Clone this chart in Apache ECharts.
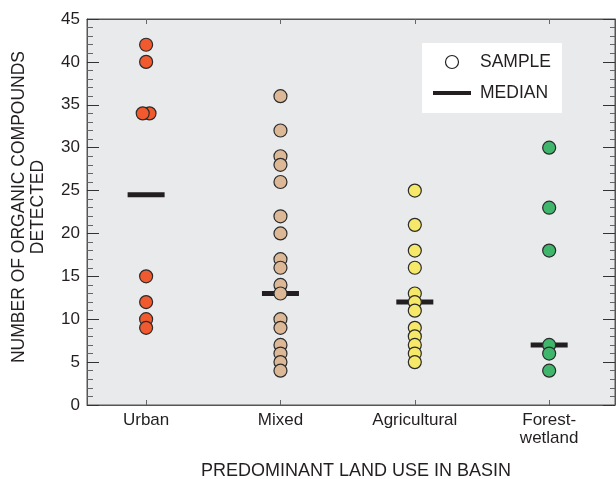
<!DOCTYPE html>
<html><head><meta charset="utf-8">
<script src="https://cdn.jsdelivr.net/npm/echarts@6/dist/echarts.min.js"></script>
<style>html,body{margin:0;padding:0;background:#fff}#c{width:616px;height:479px}</style>
</head><body><div id="c"></div>
<script>
const categories = ['Urban', 'Mixed', 'Agricultural', 'Forest-\nwetland'];
const urban = [42, 40, 34, 34, 15, 12, 10, 9];
const mixed = [36, 32, 29, 28, 26, 22, 20, 17, 16, 14, 13, 10, 9, 7, 6, 5, 4];
const agricultural = [25, 21, 18, 16, 13, 12, 11, 9, 8, 7, 6, 5];
const forest = [30, 23, 18, 7, 6, 4];
const medians = [24.5, 13, 12, 7];
const yTicks = [0, 5, 10, 15, 20, 25, 30, 35, 40, 45];

const groups = [urban, mixed, agricultural, forest];
const colors = ['#f15a2e', '#dcb896', '#f6e868', '#3fb66b'];
const FONT = 'Liberation Sans, Arial, sans-serif';
const TXT = '#231f20';

function buildPoints(vals, ci) {
  const counts = {};
  vals.forEach(v => counts[v] = (counts[v] || 0) + 1);
  const seen = {};
  return vals.map(v => {
    const item = { value: [ci, v] };
    if (counts[v] > 1) {
      const k = seen[v] = (seen[v] || 0) + 1;
      item.symbolOffset = [k === 1 ? 3.4 : -3.4, 0];
    }
    return item;
  });
}

const chart = echarts.init(document.getElementById('c'), null, { renderer: 'canvas' });

const pointSeries = groups.map((g, i) => ({
  type: 'scatter',
  name: categories[i],
  xAxisIndex: 0, yAxisIndex: 0,
  data: buildPoints(g, i),
  symbol: 'circle',
  symbolSize: 13,
  itemStyle: { color: colors[i], borderColor: '#2b2b2b', borderWidth: 1.2, opacity: 1 },
  z: 5,
  silent: true
}));

const option = {
  animation: false,
  backgroundColor: '#ffffff',
  grid: {
    left: 87, right: 1, top: 19, bottom: 74,
    outerBoundsMode: 'none', containLabel: false,
    show: true, backgroundColor: '#e9eaec', borderColor: '#555', borderWidth: 1
  },
  xAxis: [{
    type: 'value', min: -0.44, max: 3.49, position: 'bottom',
    splitLine: { show: false },
    axisLine: { show: true, onZero: false, lineStyle: { color: '#555', width: 1 } },
    axisTick: { show: true, inside: true, length: 5, customValues: [0, 1, 2, 3], lineStyle: { color: '#666' } },
    axisLabel: {
      show: true, customValues: [0, 1, 2, 3], margin: 6,
      formatter: v => categories[Math.round(v)],
      color: TXT, fontFamily: FONT, fontSize: 17, lineHeight: 18, align: 'center'
    },
    name: 'PREDOMINANT LAND USE IN BASIN',
    nameLocation: 'middle', nameGap: 57, nameMoveOverlap: false,
    nameTextStyle: { color: TXT, fontFamily: FONT, fontSize: 18, padding: [0, 0, 0, 10] }
  }, {
    type: 'value', min: -0.44, max: 3.49, position: 'top',
    splitLine: { show: false },
    axisLine: { show: true, onZero: false, lineStyle: { color: '#555', width: 1 } },
    axisTick: { show: true, inside: true, length: 5, customValues: [0, 1, 2, 3], lineStyle: { color: '#666' } },
    axisLabel: { show: false }
  }],
  yAxis: [{
    type: 'value', min: 0, max: 45, interval: 5, position: 'left',
    splitLine: { show: false },
    axisLine: { show: true, onZero: false, lineStyle: { color: '#555', width: 1 } },
    axisTick: { show: true, inside: true, length: 12, lineStyle: { color: '#333' } },
    minorTick: { show: true, splitNumber: 5, length: 6, lineStyle: { color: '#666' } },
    axisLabel: {
      margin: 7, color: TXT, fontFamily: FONT, fontSize: 17,
      formatter: v => yTicks.includes(v) ? String(v) : ''
    },
    name: 'NUMBER OF ORGANIC COMPOUNDS\nDETECTED',
    nameLocation: 'middle', nameGap: 39, nameRotate: 90, nameMoveOverlap: false,
    nameTextStyle: { color: TXT, fontFamily: FONT, fontSize: 17.5, lineHeight: 19, padding: [0, 0, 0, 10] }
  }, {
    type: 'value', min: 0, max: 45, interval: 5, position: 'right',
    splitLine: { show: false },
    axisLine: { show: true, onZero: false, lineStyle: { color: '#555', width: 1 } },
    axisTick: { show: true, inside: true, length: 12, lineStyle: { color: '#333' } },
    minorTick: { show: true, splitNumber: 5, length: 5, lineStyle: { color: '#666' } },
    axisLabel: { show: false }
  }],
  series: [
    {
      type: 'scatter', name: 'MEDIAN',
      data: medians.map((m, i) => [i, m]),
      symbol: 'rect', symbolSize: [37, 5],
      itemStyle: { color: '#231f20', opacity: 1 },
      z: 4, silent: true
    },
    ...pointSeries
  ],
  graphic: [
    { type: 'rect', left: 422, top: 43, shape: { width: 140, height: 70 }, style: { fill: '#ffffff' }, z: 10 },
    { type: 'circle', shape: { cx: 452, cy: 62, r: 6.5 }, style: { fill: '#ffffff', stroke: '#222', lineWidth: 1.2 }, z: 11 },
    { type: 'rect', shape: { x: 433, y: 91, width: 38, height: 4 }, style: { fill: '#231f20' }, z: 11 },
    { type: 'text', x: 480, y: 62, style: { text: 'SAMPLE', fill: TXT, font: '17.5px ' + FONT, verticalAlign: 'middle' }, z: 11 },
    { type: 'text', x: 480, y: 93, style: { text: 'MEDIAN', fill: TXT, font: '17.5px ' + FONT, verticalAlign: 'middle' }, z: 11 }
  ]
};
chart.setOption(option);
</script>
</body></html>
